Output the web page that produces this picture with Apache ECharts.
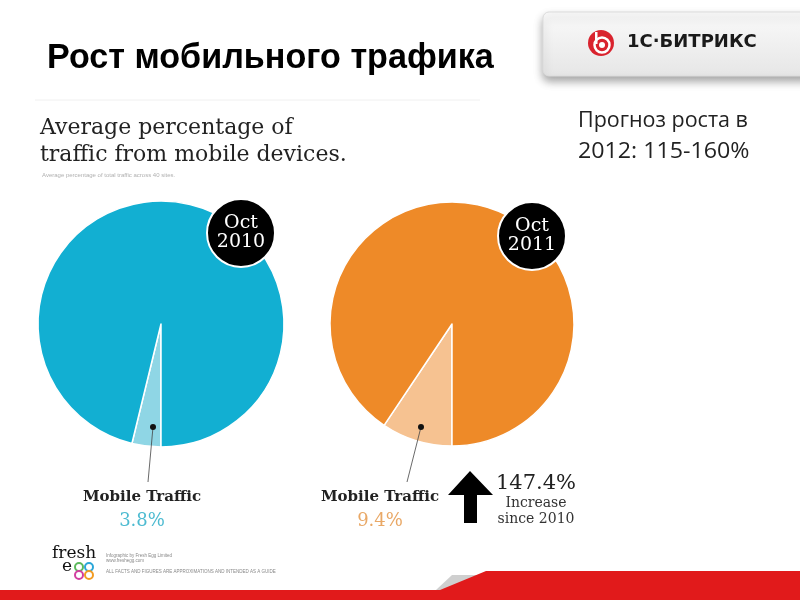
<!DOCTYPE html>
<html><head><meta charset="utf-8">
<script src="https://cdn.jsdelivr.net/npm/echarts@6/dist/echarts.min.js"></script>
<style>html,body{margin:0;padding:0;background:#fff}#c{width:800px;height:600px}</style>
</head><body><div id="c"></div>
<script>
// ---- data ----
const periods = ['Oct 2010', 'Oct 2011'];
const mobileShare = [3.8, 9.4];
const sliceNames = ['Mobile Traffic', 'Other Traffic'];
const increaseLabel = '147.4%';
const forecastLines = ['Прогноз роста в', '2012: 115-160%'];

const chart = echarts.init(document.getElementById('c'), null, {renderer: 'canvas'});

const pieCfg = [
  {center: [161, 324], r: 123, main: '#12afd2', light: '#8fd6e5', pctColor: '#4dbbd1', badge: [241, 233], dot: [153, 427], lineEnd: [148, 482], labelX: 142},
  {center: [452, 324], r: 122, main: '#ee8a28', light: '#f6c291', pctColor: '#e9a866', badge: [532, 236], dot: [421, 427], lineEnd: [407, 482], labelX: 380}
];

const series = pieCfg.map((p, i) => ({
  type: 'pie',
  center: p.center,
  radius: [0, p.r],
  startAngle: 270,
  clockwise: true,
  silent: true,
  animation: false,
  z: 2,
  label: {show: false},
  labelLine: {show: false},
  itemStyle: {borderColor: '#ffffff', borderWidth: 1.5},
  data: [
    {name: sliceNames[0], value: mobileShare[i], itemStyle: {color: p.light}},
    {name: sliceNames[1], value: +(100 - mobileShare[i]).toFixed(1), itemStyle: {color: p.main}}
  ]
}));

const g = [];
const serif = '"DejaVu Serif", Georgia, serif';
// title
g.push({type: 'text', left: 47, top: 41, scaleX: 0.975, style: {text: 'Рост мобильного трафика', font: 'bold 35px "Liberation Sans", Arial, sans-serif', fill: '#000'}});
// logo box
g.push({type: 'rect', shape: {x: 543, y: 12, width: 270, height: 64, r: 6}, style: {fill: {type: 'linear', x: 0, y: 0, x2: 0, y2: 1, colorStops: [{offset: 0, color: '#fafafa'}, {offset: 1, color: '#e6e6e6'}]}, stroke: '#dcdcdc', lineWidth: 1, shadowColor: 'rgba(0,0,0,0.35)', shadowBlur: 8, shadowOffsetY: 5}});
g.push({type: 'circle', shape: {cx: 601, cy: 43, r: 13}, style: {fill: '#d9232e'}});
g.push({type: 'circle', shape: {cx: 602, cy: 45, r: 7.5}, style: {fill: 'none', stroke: '#fff', lineWidth: 2.5}});
g.push({type: 'circle', shape: {cx: 602, cy: 45, r: 3}, style: {fill: '#fff'}});
g.push({type: 'rect', shape: {x: 595, y: 32, width: 2.5, height: 12}, style: {fill: '#fff'}});
g.push({type: 'text', left: 627, top: 33, style: {text: '1С·БИТРИКС', font: 'bold 18px "DejaVu Sans", Arial, sans-serif', fill: '#1a1a1a'}});
// faint separator
g.push({type: 'line', shape: {x1: 35, y1: 100, x2: 480, y2: 100}, style: {stroke: '#f0f0f0', lineWidth: 1}});
// infographic heading
g.push({type: 'text', left: 40, top: 115, style: {text: 'Average percentage of\ntraffic from mobile devices.', font: '22px ' + serif, lineHeight: 27, fill: '#222'}});
g.push({type: 'text', left: 42, top: 172, style: {text: 'Average percentage of total traffic across 40 sites.', font: '6px "Liberation Sans", Arial, sans-serif', fill: '#b0b0b0'}});
// forecast text
g.push({type: 'text', left: 578, top: 110, style: {text: forecastLines[0], font: '21.5px "Open Sans", "Liberation Sans", sans-serif', fill: '#222'}});
g.push({type: 'text', left: 578, top: 141, scaleX: 1.08, style: {text: forecastLines[1], font: '21.5px "Open Sans", "Liberation Sans", sans-serif', fill: '#222'}});

pieCfg.forEach((p, i) => {
  const parts = periods[i].split(' ');
  g.push({type: 'circle', z: 10, shape: {cx: p.badge[0], cy: p.badge[1], r: 34}, style: {fill: '#000', stroke: '#fff', lineWidth: 2}});
  g.push({type: 'text', z: 11, x: p.badge[0], y: p.badge[1], style: {text: parts[0] + '\n' + parts[1], font: '19px ' + serif, lineHeight: 19, fill: '#fff', align: 'center', verticalAlign: 'middle'}});
  g.push({type: 'line', z: 10, shape: {x1: p.dot[0], y1: p.dot[1], x2: p.lineEnd[0], y2: p.lineEnd[1]}, style: {stroke: '#444', lineWidth: 0.8}});
  g.push({type: 'circle', z: 11, shape: {cx: p.dot[0], cy: p.dot[1], r: 3}, style: {fill: '#111'}});
  g.push({type: 'text', x: p.labelX, y: 497, style: {text: sliceNames[0], font: 'bold 15px ' + serif, fill: '#222', align: 'center', verticalAlign: 'middle'}});
  g.push({type: 'text', x: p.labelX, y: 521, style: {text: mobileShare[i].toFixed(1) + '%', font: '18px ' + serif, fill: p.pctColor, align: 'center', verticalAlign: 'middle'}});
});

// arrow
g.push({type: 'polygon', shape: {points: [[470, 471], [493, 495], [477, 495], [477, 523], [464, 523], [464, 495], [448, 495]]}, style: {fill: '#000'}});
g.push({type: 'text', x: 536, y: 484, style: {text: increaseLabel, font: '21px ' + serif, fill: '#222', align: 'center', verticalAlign: 'middle'}});
g.push({type: 'text', x: 536, y: 511, style: {text: 'Increase\nsince 2010', font: '14px ' + serif, lineHeight: 16, fill: '#333', align: 'center', verticalAlign: 'middle'}});

// fresh egg logo
g.push({type: 'text', left: 52, top: 545, style: {text: 'fresh', font: '17px ' + serif, fill: '#111'}});
g.push({type: 'text', left: 62, top: 558, style: {text: 'e', font: '17px ' + serif, fill: '#111'}});
[[79, 567, '#5cb85c'], [89, 567, '#2aa6d8'], [79, 575, '#d23fa0'], [89, 575, '#f29b22']].forEach(c => {
  g.push({type: 'circle', shape: {cx: c[0], cy: c[1], r: 4}, style: {fill: 'none', stroke: c[2], lineWidth: 2}});
});
g.push({type: 'text', left: 106, top: 553, style: {text: 'Infographic by Fresh Egg Limited\nwww.freshegg.com', font: '4.5px "Liberation Sans", Arial, sans-serif', lineHeight: 5.5, fill: '#888'}});
g.push({type: 'text', left: 106, top: 569, style: {text: 'ALL FACTS AND FIGURES ARE APPROXIMATIONS AND INTENDED AS A GUIDE', font: '4.5px "Liberation Sans", Arial, sans-serif', fill: '#888'}});

// bottom red band
g.push({type: 'polygon', shape: {points: [[436, 590], [452, 575], [483, 575], [467, 590]]}, style: {fill: '#cfcfcf'}});
g.push({type: 'polygon', shape: {points: [[0, 590], [440, 590], [486, 571], [800, 571], [800, 600], [0, 600]]}, style: {fill: '#e11a1b'}});

chart.setOption({
  backgroundColor: '#ffffff',
  animation: false,
  series: series,
  graphic: {elements: g}
});
</script></body></html>
